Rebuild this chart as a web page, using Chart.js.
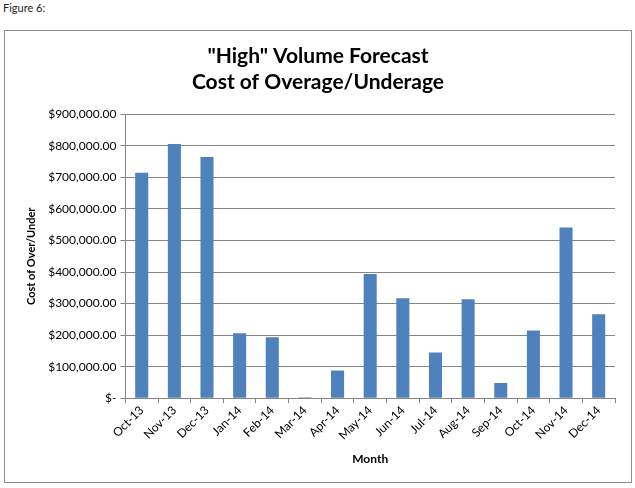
<!DOCTYPE html>
<html>
<head>
<meta charset="utf-8">
<script src="https://cdn.jsdelivr.net/npm/chart.js@4"></script>
<style>
    body { margin: 0; background: #fff; font-family: Lato, "Liberation Sans", sans-serif; }
    #caption { position: absolute; left: 3px; top: 1px; font-size: 11px; color: #222; }
    #box { position: absolute; left: 4px; top: 30px; width: 626px; height: 451px; border: 1px solid #8c8c8c; }
</style>
</head>
<body>
<div id="caption">Figure 6:</div>
<div id="box"><canvas id="canvas"></canvas></div>
<script>
var months = ["Oct-13", "Nov-13", "Dec-13", "Jan-14", "Feb-14", "Mar-14", "Apr-14", "May-14", "Jun-14", "Jul-14", "Aug-14", "Sep-14", "Oct-14", "Nov-14", "Dec-14"];
var costOverUnder = [715000, 806000, 765000, 206000, 193000, 3000, 87500, 394000, 317000, 145000, 314000, 48000, 215000, 541000, 266000];
var titleLines = ['"High" Volume Forecast', 'Cost of Overage/Underage'];

var ctx = document.getElementById('canvas').getContext('2d');
Chart.defaults.font.family = 'Lato, "Liberation Sans", sans-serif';
Chart.defaults.color = '#000';

function money(v) {
    if (v === 0) return '$-';
    return '$' + v.toLocaleString('en-US', { minimumFractionDigits: 2, maximumFractionDigits: 2 });
}

var myChart = new Chart(ctx, {
    type: 'bar',
    data: {
        labels: months,
        datasets: [{
            data: costOverUnder,
            backgroundColor: '#4f81bd',
            categoryPercentage: 1,
            barPercentage: 0.4
        }]
    },
    options: {
        responsive: true,
        maintainAspectRatio: false,
        animation: false,
        layout: { padding: { left: 16, right: 16, top: 4, bottom: 12 } },
        plugins: {
            legend: { display: false },
            tooltip: { enabled: false },
            title: {
                display: true,
                text: titleLines,
                font: { size: 21, weight: 'bold' },
                lineHeight: 1.55,
                padding: { top: 9, bottom: 20 }
            }
        },
        scales: {
            x: {
                grid: { display: true, drawOnChartArea: false, drawTicks: true, tickLength: 5, color: '#868686' },
                border: { display: true, color: '#868686' },
                ticks: { font: { size: 12 }, maxRotation: 45, minRotation: 45, padding: 0 },
                title: { display: true, text: 'Month', font: { size: 12, weight: 'bold' }, padding: { top: 9 } }
            },
            y: {
                min: 0,
                max: 900000,
                grid: { color: '#868686', tickLength: 5 },
                border: { display: true, color: '#868686' },
                ticks: { stepSize: 100000, font: { size: 12 }, padding: 4, callback: function (v) { return money(v); } },
                title: { display: true, text: 'Cost of Over/Under', font: { size: 11, weight: 'bold' }, padding: { bottom: 6 } }
            }
        }
    }
});
</script>
</body>
</html>
